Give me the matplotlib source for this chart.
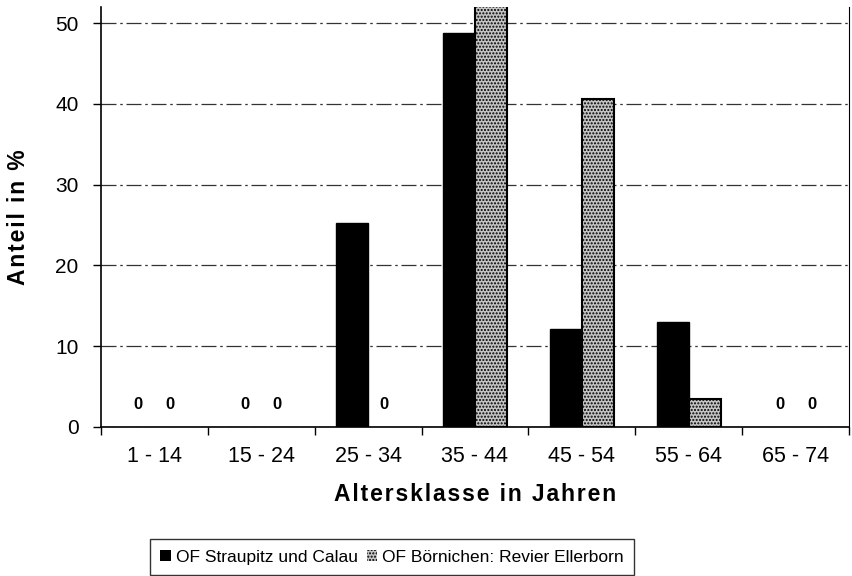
import numpy as np
import matplotlib.pyplot as plt

plt.rcParams['font.family'] = ['Liberation Sans', 'DejaVu Sans']

# Data
categories = ['1 - 14', '15 - 24', '25 - 34', '35 - 44', '45 - 54', '55 - 64', '65 - 74']
straupitz = [0, 0, 25.2, 48.8, 12.1, 13.0, 0]
boernichen = [0, 0, 0, 52.5, 40.6, 3.5, 0]
series_names = ['OF Straupitz und Calau', 'OF Börnichen: Revier Ellerborn']


def spaced(s, sep='\u200a'):
    # loose letter spacing like the scanned original
    return sep.join(list(s))


fig = plt.figure(figsize=(8.52, 5.76), dpi=100)
ax = fig.add_axes([0.1185, 0.2587, 0.878, 0.729])

x = np.arange(len(categories))
w = 0.3
b1 = ax.bar(x - w / 2, straupitz, w, color='black', edgecolor='black',
            lw=[1 if v > 0 else 0 for v in straupitz], label=series_names[0], zorder=3)
b2 = ax.bar(x + w / 2, boernichen, w, color='#c4c4c4', edgecolor='black',
            lw=[1.5 if v > 0 else 0 for v in boernichen], hatch='.....',
            label=series_names[1], zorder=3)

# zero value labels
for i in range(len(categories)):
    if straupitz[i] == 0:
        ax.text(x[i] - w / 2, 2.8, '0', ha='center', va='center', fontsize=12, fontweight='bold')
    if boernichen[i] == 0:
        ax.text(x[i] + w / 2, 2.8, '0', ha='center', va='center', fontsize=12, fontweight='bold')

ax.set_xlim(-0.5, len(categories) - 0.5)
ax.set_ylim(0, 52)
ax.set_yticks([0, 10, 20, 30, 40, 50])
ax.set_xticks(x)
ax.set_xticklabels(categories)
ax.set_xticks(np.arange(-0.5, len(categories), 1), minor=True)
ax.tick_params(axis='x', which='major', length=0, pad=14, labelsize=15.5)
ax.tick_params(axis='x', which='minor', length=6, direction='out', width=1)
ax.tick_params(axis='y', length=6, direction='out', width=1, labelsize=15, pad=10)

ax.yaxis.grid(True, color='#333333', lw=0.9, linestyle=(0, (12, 3, 2, 3)), zorder=0)
ax.spines['top'].set_visible(False)
ax.spines['right'].set_linewidth(0.8)
ax.spines['left'].set_linewidth(1.2)
ax.spines['bottom'].set_linewidth(1.2)

ax.set_xlabel(spaced('Altersklasse in Jahren', '\u200a'), fontsize=16.5, fontweight='bold', labelpad=11)
ax.set_ylabel(spaced('Anteil in %', '\u200a'), fontsize=16.5, fontweight='bold', labelpad=18)

leg = ax.legend(loc='lower left', ncol=2, frameon=True, fancybox=False, edgecolor='black',
                fontsize=12.5, handlelength=0.6, handleheight=0.6, handletextpad=0.3,
                columnspacing=0.5, borderpad=0.6, borderaxespad=0)
leg.set_bbox_to_anchor((150 / 852, 1 - 575 / 576), transform=fig.transFigure)
leg.get_frame().set_linewidth(1)

fig.savefig('out.png', dpi=100)
